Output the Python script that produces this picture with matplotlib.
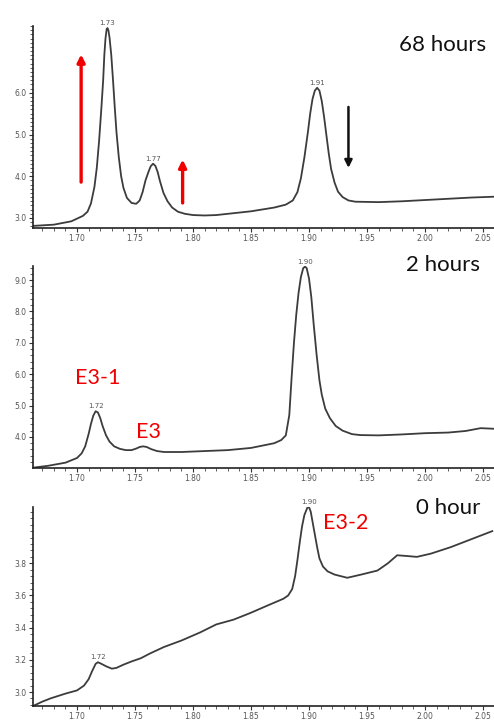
import matplotlib
matplotlib.use("Agg")
import matplotlib.pyplot as plt
from matplotlib.ticker import MultipleLocator, FixedLocator, FormatStrFormatter
import numpy as np

# ---- traces (retention position, signal) ----
x_68h = [1.662, 1.680, 1.695, 1.705, 1.709, 1.712, 1.715, 1.717, 1.719, 1.721,
         1.7225, 1.7235, 1.7245, 1.7255, 1.7262, 1.727, 1.728, 1.7295, 1.731, 1.7325,
         1.734, 1.736, 1.738, 1.740, 1.743, 1.747, 1.751, 1.754, 1.7565, 1.759,
         1.7615, 1.7635, 1.7655, 1.7675, 1.7695, 1.7715, 1.7745, 1.778, 1.782, 1.787,
         1.793, 1.800, 1.810, 1.820, 1.830, 1.850, 1.870, 1.880, 1.886, 1.890,
         1.893, 1.896, 1.899, 1.901, 1.903, 1.905, 1.907, 1.909, 1.911, 1.913,
         1.915, 1.917, 1.919, 1.922, 1.925, 1.929, 1.934, 1.940, 1.960, 1.980,
         2.000, 2.020, 2.040, 2.060]
y_68h = [2.81, 2.84, 2.92, 3.05, 3.15, 3.35, 3.75, 4.20, 4.85, 5.65,
         6.30, 6.90, 7.30, 7.52, 7.55, 7.50, 7.32, 6.90, 6.30, 5.65,
         5.05, 4.45, 4.00, 3.72, 3.48, 3.36, 3.34, 3.42, 3.62, 3.90,
         4.10, 4.24, 4.30, 4.25, 4.10, 3.88, 3.60, 3.40, 3.25, 3.15,
         3.10, 3.07, 3.06, 3.07, 3.10, 3.16, 3.25, 3.32, 3.42, 3.62,
         3.95, 4.45, 5.05, 5.50, 5.85, 6.05, 6.12, 6.05, 5.80, 5.42,
         4.98, 4.55, 4.18, 3.85, 3.63, 3.50, 3.42, 3.39, 3.38, 3.40,
         3.43, 3.46, 3.49, 3.51]

x_2h = [1.662, 1.675, 1.690, 1.700, 1.704, 1.707, 1.710, 1.712, 1.714, 1.716,
        1.718, 1.720, 1.722, 1.725, 1.728, 1.732, 1.737, 1.742, 1.747, 1.751,
        1.754, 1.757, 1.760, 1.764, 1.769, 1.775, 1.790, 1.810, 1.830, 1.850,
        1.870, 1.876, 1.880, 1.883, 1.885, 1.887, 1.889, 1.891, 1.893, 1.895,
        1.8966, 1.898, 1.900, 1.902, 1.904, 1.9066, 1.909, 1.911, 1.914, 1.918,
        1.923, 1.929, 1.937, 1.944, 1.960, 1.980, 2.000, 2.020, 2.035, 2.048,
        2.060]
y_2h = [3.02, 3.08, 3.18, 3.33, 3.48, 3.70, 4.10, 4.42, 4.68, 4.82,
        4.78, 4.60, 4.35, 4.05, 3.85, 3.70, 3.62, 3.58, 3.58, 3.63,
        3.68, 3.70, 3.68, 3.61, 3.55, 3.52, 3.52, 3.55, 3.58, 3.65,
        3.80, 3.90, 4.05, 4.70, 5.90, 7.00, 7.90, 8.60, 9.10, 9.38,
        9.43, 9.38, 9.05, 8.45, 7.60, 6.60, 5.80, 5.35, 4.90, 4.60,
        4.35, 4.20, 4.09, 4.06, 4.05, 4.08, 4.12, 4.14, 4.19, 4.28,
        4.26]

x_0h = [1.662, 1.670, 1.677, 1.690, 1.700, 1.706, 1.710, 1.713, 1.716, 1.718,
        1.721, 1.725, 1.730, 1.734, 1.740, 1.747, 1.755, 1.763, 1.775, 1.790,
        1.806, 1.820, 1.835, 1.849, 1.865, 1.878, 1.882, 1.8855, 1.888, 1.890,
        1.892, 1.894, 1.896, 1.8985, 1.900, 1.9015, 1.903, 1.905, 1.907, 1.909,
        1.912, 1.916, 1.922, 1.933, 1.945, 1.959, 1.968, 1.976, 1.985, 1.993,
        2.005, 2.022, 2.040, 2.058]
y_0h = [2.913, 2.94, 2.96, 2.99, 3.01, 3.04, 3.08, 3.13, 3.175, 3.185,
        3.175, 3.16, 3.145, 3.15, 3.17, 3.19, 3.21, 3.24, 3.28, 3.32,
        3.37, 3.42, 3.45, 3.49, 3.54, 3.58, 3.60, 3.64, 3.72, 3.82,
        3.93, 4.03, 4.10, 4.145, 4.15, 4.12, 4.06, 3.98, 3.90, 3.83,
        3.78, 3.75, 3.73, 3.71, 3.73, 3.755, 3.80, 3.85, 3.845, 3.84,
        3.86, 3.90, 3.95, 4.00]

# labelled peak positions on each trace
peaks_68h = [1.73, 1.77, 1.91]
peaks_2h = [1.72, 1.90]
peaks_0h = [1.72, 1.90]

# y tick labels shown on each panel
yticks_68h = [3.0, 4.0, 5.0, 6.0]
yticks_2h = [4.0, 5.0, 6.0, 7.0, 8.0, 9.0]
yticks_0h = [3.0, 3.2, 3.4, 3.6, 3.8]

xticks = [1.70, 1.75, 1.80, 1.85, 1.90, 1.95, 2.00, 2.05]

titles = ["68 hours", "2 hours", "0 hour"]

# ---- figure ----
W, H = 494, 722
fig = plt.figure(figsize=(W / 100, H / 100), dpi=100)
fig.patch.set_facecolor("white")

TXT_FONT = ["Lato", "DejaVu Sans"]
LINE_C = "#3c3c3c"
RED = "#f00000"


def px_axes(left, top, right, bottom):
    return fig.add_axes([left / W, 1 - bottom / H, (right - left) / W, (bottom - top) / H])


def style(ax, xs, ys, ylim, yt, ymin_step, ylabfmt, peaks):
    ax.plot(xs, ys, color=LINE_C, lw=1.3, solid_joinstyle="round")
    ax.set_xlim(1.662, 2.0595)
    ax.set_ylim(*ylim)
    for s in ("top", "right"):
        ax.spines[s].set_visible(False)
    for s in ("left", "bottom"):
        ax.spines[s].set_color("#222222")
        ax.spines[s].set_linewidth(1.2)
    ax.xaxis.set_major_locator(FixedLocator(xticks))
    ax.xaxis.set_minor_locator(MultipleLocator(0.01))
    ax.yaxis.set_major_locator(FixedLocator(yt))
    ax.yaxis.set_minor_locator(MultipleLocator(ymin_step))
    ax.xaxis.set_major_formatter(FormatStrFormatter("%.2f"))
    ax.yaxis.set_major_formatter(FormatStrFormatter(ylabfmt))
    ax.tick_params(which="major", direction="out", length=3, width=0.8,
                   labelsize=5.5, labelcolor="#555555", color="#333333", pad=1.5)
    ax.tick_params(which="minor", direction="out", length=2, width=0.6, color="#444444")
    ax.patch.set_alpha(0)
    xa = np.asarray(xs)
    ya = np.asarray(ys)
    for p in peaks:
        sel = np.where(np.abs(xa - p) < 0.008)[0]
        i = sel[np.argmax(ya[sel])]
        ax.annotate(f"{p:.2f}", (xa[i], ya[i]), xytext=(0, 1.5), textcoords="offset points",
                    ha="center", va="bottom", fontsize=5, color="#555555",
                    annotation_clip=False)


ax1 = px_axes(33, 26, 494, 228)
style(ax1, x_68h, y_68h, (2.76, 7.60), yticks_68h, 0.1, "%.1f", peaks_68h)
ax2 = px_axes(33, 266, 494, 468)
style(ax2, x_2h, y_2h, (3.01, 9.45), yticks_2h, 0.2, "%.1f", peaks_2h)
ax3 = px_axes(33, 507, 494, 706)
style(ax3, x_0h, y_0h, (2.913, 4.15), yticks_0h, 0.04, "%.1f", peaks_0h)

# time-point titles
fig.text(443 / W, 1 - 45 / H, titles[0], ha="center", va="center", fontsize=16,
         family=TXT_FONT, color="#111111")
fig.text(443 / W, 1 - 265 / H, titles[1], ha="center", va="center", fontsize=16,
         family=TXT_FONT, color="#111111")
fig.text(448 / W, 1 - 508 / H, titles[2], ha="center", va="center", fontsize=16,
         family=TXT_FONT, color="#111111")

# species labels
fig.text(98 / W, 1 - 378 / H, "E3-1", ha="center", va="center", fontsize=15.5,
         family=TXT_FONT, color=RED)
fig.text(148 / W, 1 - 432 / H, "E3", ha="center", va="center", fontsize=15.5,
         family=TXT_FONT, color=RED)
fig.text(346 / W, 1 - 523 / H, "E3-2", ha="center", va="center", fontsize=15.5,
         family=TXT_FONT, color=RED)

# trend arrows on the 68 h trace
arrow_kw = dict(arrowstyle="-|>", mutation_scale=11, shrinkA=0, shrinkB=0)
ax1.annotate("", xy=(1.7035, 6.92), xytext=(1.7035, 3.86),
             arrowprops=dict(color=RED, lw=2.4, **arrow_kw))
ax1.annotate("", xy=(1.791, 4.40), xytext=(1.791, 3.36),
             arrowprops=dict(color=RED, lw=2.4, **arrow_kw))
ax1.annotate("", xy=(1.934, 4.20), xytext=(1.934, 5.66),
             arrowprops=dict(color="#111111", lw=1.8, **arrow_kw))

fig.savefig("out.png", dpi=100, facecolor="white")
